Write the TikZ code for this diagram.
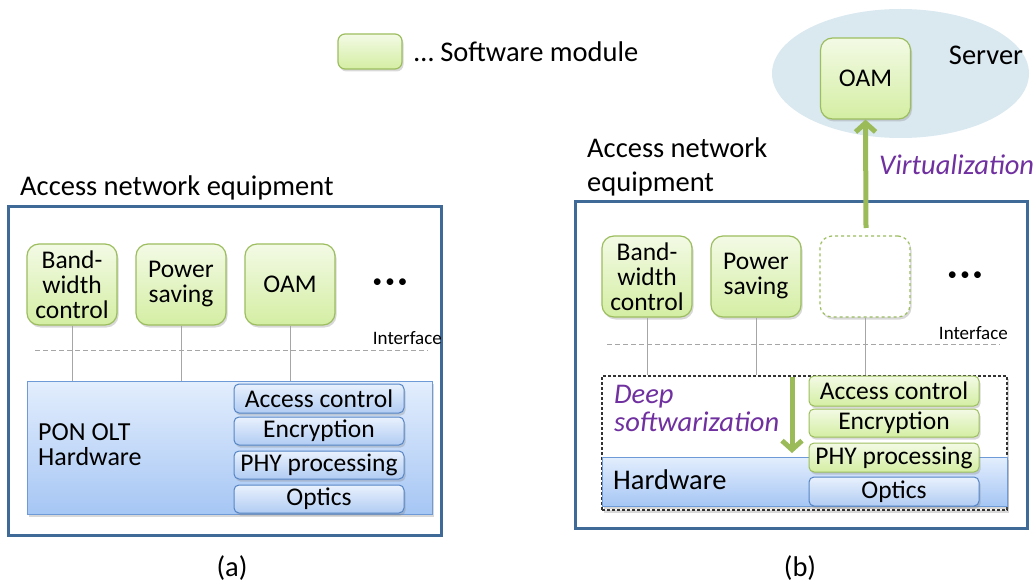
\documentclass[tikz,border=0pt]{standalone}
\usepackage{fontspec}
\setmainfont{Carlito}
\usetikzlibrary{shadows,arrows.meta,shapes.geometric}
\definecolor{gtop}{HTML}{F3FAE5}
\definecolor{gbot}{HTML}{D4EEA3}
\definecolor{gborder}{HTML}{9CBE5F}
\definecolor{htop}{HTML}{E3EEFD}
\definecolor{hbot}{HTML}{A6C6F4}
\definecolor{hborder}{HTML}{6E9BD8}
\definecolor{stop}{HTML}{E9F1FD}
\definecolor{sbot}{HTML}{B1CCF3}
\definecolor{sborder}{HTML}{5585C5}
\definecolor{outerc}{HTML}{3F6A98}
\definecolor{purp}{HTML}{7030A0}
\definecolor{srvfill}{HTML}{DAE8F0}
\definecolor{arrg}{HTML}{9BBB59}
\definecolor{lgray}{HTML}{A6A6A6}
\newcommand\myfs[2]{\fontsize{#1}{#2}\selectfont}
\begin{document}
\begin{tikzpicture}[x=1pt,y=-1pt,
  shad/.style={drop shadow={shadow xshift=1.5pt,shadow yshift=-2.5pt,opacity=0.3}},
  soft/.style={draw=gborder,line width=1.2pt,rounded corners=12pt,top color=gtop,bottom color=gbot,shad,
    minimum width=90pt,minimum height=81pt,align=center,font=\myfs{25.5}{25},inner sep=0pt},
  ghost/.style={draw=gborder,line width=1.2pt,dashed,rounded corners=12pt,fill=white,shad,
    minimum width=90pt,minimum height=81pt,inner sep=0pt},
  hwbox/.style={draw=hborder,line width=1pt,top color=htop,bottom color=hbot,shad,inner sep=0pt},
  sub/.style={draw=sborder,line width=1pt,rounded corners=5pt,top color=stop,bottom color=sbot,shad,
    minimum width=170pt,inner sep=0pt,font=\myfs{25.5}{25}},
  gsub/.style={draw=gborder,line width=1pt,rounded corners=5pt,top color=gtop,bottom color=gbot,shad,
    minimum width=170pt,inner sep=0pt,font=\myfs{25.5}{25}},
  outer/.style={draw=outerc,line width=3pt,inner sep=0pt,drop shadow={shadow xshift=1.5pt,shadow yshift=-1.5pt,opacity=0.2}},
  conn/.style={draw=lgray,line width=1pt},
  ifline/.style={draw=lgray,line width=1pt,dash pattern=on 5pt off 3pt},
  bigarrow/.style={draw=arrg,line width=5pt,-{Straight Barb[length=9pt,width=20pt,line width=5pt]}},
  lbl/.style={font=\myfs{28.5}{34},inner sep=0pt,align=left},
  plbl/.style={font=\myfs{28.5}{28}\itshape,text=purp,inner sep=0pt,align=left},
  dotsty/.style={font=\myfs{19}{19},inner sep=0pt}
]
\useasboundingbox (0,0) rectangle (1035,585);

% Legend
\node[soft,minimum width=64pt,minimum height=35pt,rounded corners=7pt] (leg) at (370,51.5) {};
\node[lbl,anchor=west] (legt) at (414,52) {… Software module};

% ---------- (a) ----------
\node[lbl,anchor=west] (titA) at (20,188) {Access network equipment};
\node[outer,minimum width=433pt,minimum height=328pt,fill=white] (outA) at (224.5,371) {};
\coordinate (ifA1) at (35,350);
\coordinate (ifA2) at (428,350);
\draw[ifline] (ifA1) -- (ifA2);
\node[font=\myfs{19}{19},anchor=east,inner sep=0pt] (intA) at (442,338) {Interface};
\node[hwbox,minimum width=405pt,minimum height=133pt] (hwA) at (229.5,447.5) {};
\node[sub,minimum height=29pt] (acA) at (319,398.5) {Access control};
\node[sub,minimum height=28pt] (enA) at (319,431) {Encryption};
\node[sub,minimum height=28pt] (phA) at (319,465) {PHY processing};
\node[sub,minimum height=28pt] (opA) at (319,499) {Optics};
\node[lbl,font=\myfs{26}{25},anchor=west] (ponA) at (38,445) {PON OLT\\Hardware};
\node[soft] (bwA) at (72,284.5) {Band-\\width\\control};
\node[soft] (psA) at (181,284.5) {Power\\saving};
\node[soft] (oamA) at (290,284.5) {OAM};
\draw[conn] (bwA.south) -- (bwA.south |- hwA.north);
\draw[conn] (psA.south) -- (psA.south |- hwA.north);
\draw[conn] (oamA.south) -- (oamA.south |- hwA.north);
\node[dotsty] (dotsA) at (390,283) {•\,•\,•};
\node[lbl] (capA) at (232,568) {(a)};

% ---------- (b) ----------
\node[ellipse,fill=srvfill,minimum width=257pt,minimum height=129pt,inner sep=0pt] (srv) at (900.5,73.5) {};
\node[soft] (oamB) at (865.5,78.5) {OAM};
\node[lbl] (srvt) at (986,55) {Server};
\node[lbl,anchor=west] (titB) at (587,167) {Access network\\equipment};
\node[outer,minimum width=452pt,minimum height=326pt,fill=white] (outB) at (801,365) {};
\coordinate (ifB1) at (607,344);
\coordinate (ifB2) at (1000,344);
\draw[ifline] (ifB1) -- (ifB2);
\node[font=\myfs{19}{19},anchor=east,inner sep=0pt] (intB) at (1008,333) {Interface};
\node[draw=black!80,line width=1.2pt,densely dashed,fill=white,shad,minimum width=405pt,minimum height=134pt,inner sep=0pt] (dsB) at (804.5,443) {};
\node[hwbox,minimum width=405pt,minimum height=49pt] (hwB) at (804.5,481.5) {};
\node[lbl,anchor=west] (hwtB) at (613,480) {Hardware};
\node[gsub,minimum height=30pt] (acB) at (894,391) {Access control};
\node[gsub,minimum height=28pt] (enB) at (894,423) {Encryption};
\node[gsub,minimum height=29pt] (phB) at (894,457.5) {PHY processing};
\node[sub,minimum height=29pt] (opB) at (894,491.5) {Optics};
\node[soft] (bwB) at (647,276.5) {Band-\\width\\control};
\node[soft] (psB) at (756,276.5) {Power\\saving};
\node[ghost] (vmB) at (865,276.5) {};
\draw[conn] (bwB.south) -- (bwB.south |- dsB.north);
\draw[conn] (psB.south) -- (psB.south |- dsB.north);
\draw[conn] (vmB.south) -- (vmB.south |- dsB.north);
\node[dotsty] (dotsB) at (965,276) {•\,•\,•};
\coordinate (virtS) at (866,228);
\draw[bigarrow] (virtS) -- (oamB.south);
\node[plbl,anchor=west] (virtT) at (879,165) {Virtualization};
\coordinate (deepS) at (792,377);
\coordinate (deepE) at (792,453);
\draw[bigarrow] (deepS) -- (deepE);
\node[plbl,anchor=west] (deepT) at (614,408) {Deep\\softwarization};
\node[lbl] (capB) at (800,568) {(b)};
\end{tikzpicture}
\end{document}
